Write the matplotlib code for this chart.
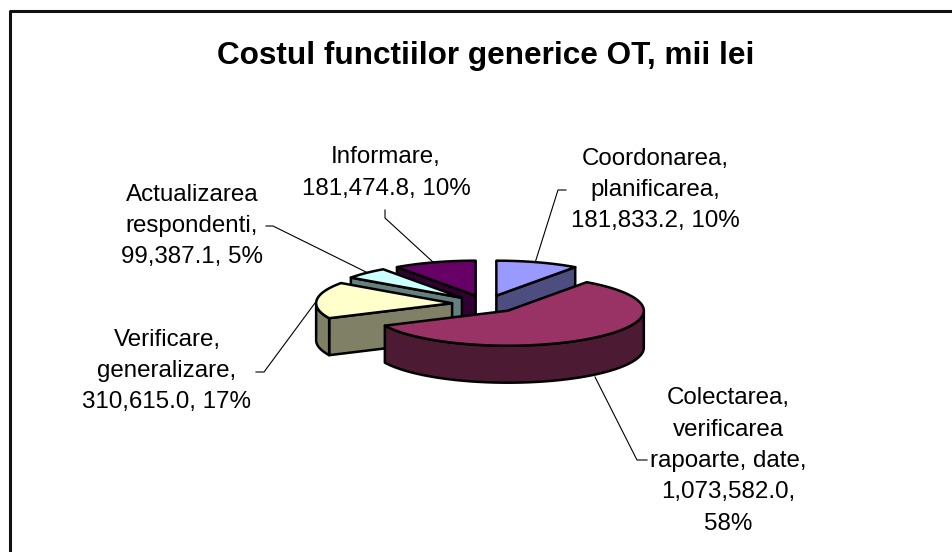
import numpy as np
import matplotlib
matplotlib.use("Agg")
import matplotlib.pyplot as plt

plt.rcParams['font.family'] = ['Liberation Sans', 'DejaVu Sans']

# Data, clockwise from 12 o'clock
categories = ["Coordonarea,\nplanificarea,", "Colectarea,\nverificarea\nrapoarte, date,",
              "Verificare,\ngeneralizare,", "Actualizarea\nrespondenti,", "Informare,"]
values = [181833.2, 1073582.0, 310615.0, 99387.1, 181474.8]
percents = ["10%", "58%", "17%", "5%", "10%"]
top_colors = ["#9999FF", "#993366", "#FFFFCC", "#CCFFFF", "#660066"]
side_colors = ["#4D4D80", "#4D1A33", "#808066", "#668080", "#330033"]
title = "Costul functiilor generice OT, mii lei"

# pie geometry in pixels
cx, cy = 486, 304
rx, ry = 136, 35
explode = 0.25
depth = 37


def arc(center, a0, a1):
    n = max(2, int(abs(a1 - a0) / 2) + 2)
    t = np.radians(np.linspace(a0, a1, n))
    return np.column_stack([center[0] + rx * np.sin(t), center[1] - ry * np.cos(t)])


def poly(ax, pts, color, z):
    ax.fill(pts[:, 0], pts[:, 1], facecolor=color, edgecolor="black", lw=1.8, joinstyle="round", zorder=z)


fig = plt.figure(figsize=(9.52, 5.52), dpi=100)
ax = fig.add_axes([0, 0, 1, 1])
ax.set_xlim(0, 952)
ax.set_ylim(552, 0)
ax.axis("off")

# frame runs off the right and bottom of the picture
ax.plot([9.5, 9.5, 952], [552, 10.5, 10.5], color="#111111", lw=2.2, zorder=1)

vals = np.array(values)
edges = np.concatenate([[0], np.cumsum(vals)]) / vals.sum() * 360

# back slices first, the big front one last
order = [0, 4, 3, 2, 1]
for k, i in enumerate(order):
    a0, a1 = edges[i], edges[i + 1]
    mid = np.radians((a0 + a1) / 2)
    c = np.array([cx + explode * rx * np.sin(mid), cy - explode * ry * np.cos(mid)])
    z = 10 + k
    shift = np.array([0, depth])

    # cut faces
    for ang, visible in ((a0, np.sin(np.radians(a0)) < -1e-6), (a1, np.sin(np.radians(a1)) > 1e-6)):
        if visible:
            p = arc(c, ang, ang)[0]
            poly(ax, np.array([c, p, p + shift, c + shift]), side_colors[i], z)

    # rim, only the part turned to the viewer
    lo, hi = max(a0, 90), min(a1, 270)
    if hi > lo:
        rim = arc(c, lo, hi)
        poly(ax, np.vstack([rim, rim[::-1] + shift]), side_colors[i], z)

    # top face
    poly(ax, np.vstack([c, arc(c, a0, a1)]), top_colors[i], z)

# labels
label_pos = [(655, 190), (728, 461), (167, 371), (192, 226), (386, 173)]
for i, (x, y) in enumerate(label_pos):
    num = f"{values[i]:,.1f}"
    if i == 1:
        tail = f"{num},\n{percents[i]}"
    else:
        tail = f"{num}, {percents[i]}"
    ax.text(x, y, categories[i] + "\n" + tail, ha="center", va="center", fontsize=17.4,
            linespacing=1.55, color="black", zorder=30)

# leader lines
leaders = [([566, 558, 535], [190, 190, 263]),
           ([647, 637, 595], [460, 460, 377]),
           ([256, 264, 315], [372, 372, 303]),
           ([266, 273, 366], [226, 226, 272]),
           ([385, 385, 434], [210, 218, 263])]
for xs, ys in leaders:
    ax.plot(xs, ys, color="black", lw=0.8, zorder=9)

ax.text(486, 56, title, ha="center", va="center", fontsize=22.7, fontweight="bold", color="black")

fig.savefig("out.png", dpi=100)
